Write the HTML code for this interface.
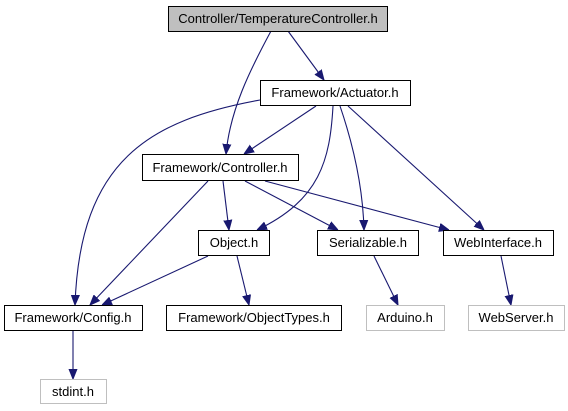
<!DOCTYPE html>
<html><head><meta charset="utf-8"><style>
html,body{margin:0;padding:0;background:#fff;}
svg{display:block;}
text{font-family:"Liberation Sans",Arial,sans-serif;font-size:13px;text-anchor:middle;fill:#000;}
.e{fill:none;stroke:#191970;stroke-width:1.1;}
</style></head><body>
<svg width="568" height="411" viewBox="0 0 568 411" xmlns="http://www.w3.org/2000/svg">
<defs>
<marker id="a" viewBox="0 0 10 10" refX="10" refY="5" markerWidth="10" markerHeight="10" markerUnits="userSpaceOnUse" orient="auto">
<path d="M0,1 L10,5 L0,9 z" fill="#191970" stroke="#191970"/>
</marker>
</defs>
<!-- edges -->
<path class="e" marker-end="url(#a)" d="M271,31 C250,70 230,110 226,154"/>
<path class="e" marker-end="url(#a)" d="M288,31 L324,80"/>
<path class="e" marker-end="url(#a)" d="M260,100 C150,120 80,160 75,305"/>
<path class="e" marker-end="url(#a)" d="M316,106 L244,154"/>
<path class="e" marker-end="url(#a)" d="M333,106 C330,160 320,200 257,230"/>
<path class="e" marker-end="url(#a)" d="M340,106 C355,150 363,190 364,230"/>
<path class="e" marker-end="url(#a)" d="M348,106 L484,230"/>
<path class="e" marker-end="url(#a)" d="M208,181 L90,305"/>
<path class="e" marker-end="url(#a)" d="M223,181 L229,230"/>
<path class="e" marker-end="url(#a)" d="M245,181 L338,230"/>
<path class="e" marker-end="url(#a)" d="M265,181 L449,230"/>
<path class="e" marker-end="url(#a)" d="M208,256 L102,305"/>
<path class="e" marker-end="url(#a)" d="M237,256 L249,305"/>
<path class="e" marker-end="url(#a)" d="M374,256 L398,305"/>
<path class="e" marker-end="url(#a)" d="M501,256 L511,305"/>
<path class="e" marker-end="url(#a)" d="M73,331 L73,379"/>
<!-- nodes -->
<rect x="168.5" y="6.5" width="219" height="25" fill="#bfbfbf" stroke="#000"/>
<text x="278" y="23">Controller/TemperatureController.h</text>
<rect x="260.5" y="80.5" width="150" height="25" fill="#fff" stroke="#000"/>
<text x="335" y="97">Framework/Actuator.h</text>
<rect x="142.5" y="154.5" width="156" height="26" fill="#fff" stroke="#000"/>
<text x="220" y="172">Framework/Controller.h</text>
<rect x="198.5" y="230.5" width="71" height="25" fill="#fff" stroke="#000"/>
<text x="234" y="247">Object.h</text>
<rect x="317.5" y="230.5" width="101" height="25" fill="#fff" stroke="#000"/>
<text x="368" y="247">Serializable.h</text>
<rect x="443.5" y="230.5" width="110" height="25" fill="#fff" stroke="#000"/>
<text x="498" y="247">WebInterface.h</text>
<rect x="4.5" y="305.5" width="138" height="25" fill="#fff" stroke="#000"/>
<text x="73" y="322">Framework/Config.h</text>
<rect x="166.5" y="305.5" width="175" height="25" fill="#fff" stroke="#000"/>
<text x="254" y="322">Framework/ObjectTypes.h</text>
<rect x="366.5" y="305.5" width="78" height="25" fill="#fff" stroke="#bfbfbf"/>
<text x="405" y="322">Arduino.h</text>
<rect x="468.5" y="305.5" width="96" height="25" fill="#fff" stroke="#bfbfbf"/>
<text x="516" y="322">WebServer.h</text>
<rect x="40.5" y="379.5" width="66" height="24" fill="#fff" stroke="#bfbfbf"/>
<text x="73" y="396">stdint.h</text>
</svg>
</body></html>
